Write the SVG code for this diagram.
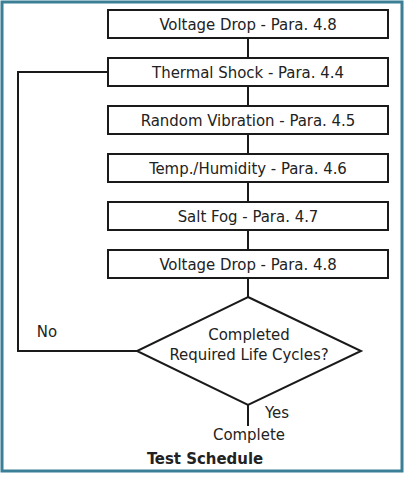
<svg xmlns="http://www.w3.org/2000/svg" width="405" height="477" viewBox="0 0 405 477">
<style>
.box{fill:#fff;stroke:#1a1a1a;stroke-width:2}
.ln{fill:none;stroke:#1a1a1a;stroke-width:2}
.t{font-family:"DejaVu Sans Condensed","DejaVu Sans",sans-serif;font-size:16.6px;fill:#222;text-anchor:middle}
.b{font-weight:bold}
</style>
<rect x="0" y="0" width="405" height="477" fill="#fff"/>
<rect x="2" y="2" width="400" height="469" fill="#fff" stroke="#3a7f95" stroke-width="3"/>
<g id="connectors">
<path class="ln" d="M248 39V57M248 87V105M248 135V153M248 183V201M248 231V249M248 279V297"/>
<path class="ln" d="M108 72H18V351H137"/>
<path class="ln" d="M248 405V426"/>
</g>
<g id="n1"><rect class="box" x="108" y="10" width="280" height="28"/><text class="t" x="248" y="30">Voltage Drop - Para. 4.8</text></g>
<g id="n2"><rect class="box" x="108" y="58" width="280" height="28"/><text class="t" x="248" y="78">Thermal Shock - Para. 4.4</text></g>
<g id="n3"><rect class="box" x="108" y="106" width="280" height="28"/><text class="t" x="248" y="126">Random Vibration - Para. 4.5</text></g>
<g id="n4"><rect class="box" x="108" y="154" width="280" height="28"/><text class="t" x="248" y="174">Temp./Humidity - Para. 4.6</text></g>
<g id="n5"><rect class="box" x="108" y="202" width="280" height="28"/><text class="t" x="248" y="222">Salt Fog - Para. 4.7</text></g>
<g id="n6"><rect class="box" x="108" y="250" width="280" height="28"/><text class="t" x="248" y="270">Voltage Drop - Para. 4.8</text></g>
<g id="decision"><polygon class="box" points="248,297 361,351 248,405 137,351"/><text class="t" x="249" y="340">Completed</text><text class="t" x="249" y="360">Required Life Cycles?</text></g>
<g id="labels">
<text class="t" x="47" y="337">No</text>
<text class="t" x="277" y="418">Yes</text>
</g>
<g id="complete"><text class="t" x="249" y="440">Complete</text></g>
<text class="t b" x="205" y="464">Test Schedule</text>
</svg>
